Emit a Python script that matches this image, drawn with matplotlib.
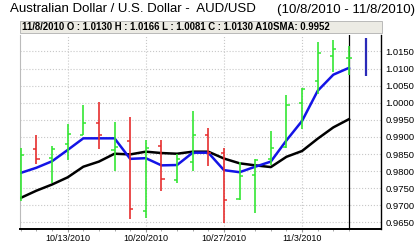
import matplotlib
matplotlib.use('Agg')
import matplotlib.pyplot as plt
from matplotlib.patches import Rectangle

plt.rcParams['font.family'] = ['Liberation Sans', 'DejaVu Sans']

# trading days shown on the axis
dates = ['10/8', '10/11', '10/12', '10/13', '10/14', '10/15', '10/18', '10/19',
         '10/20', '10/21', '10/22', '10/25', '10/26', '10/27', '10/28', '10/29',
         '11/1', '11/2', '11/3', '11/4', '11/5', '11/8']
opens = [0.9800, 0.9866, 0.9839, 0.9879, 0.9906, 0.9941, 0.9862, 0.9888,
         0.9684, 0.9874, 0.9775, 0.9826, 0.9906, 0.9854, 0.9720, 0.9790,
         0.9835, 0.9871, 0.9998, 1.0063, 1.0138, 1.0130]
highs = [0.9869, 0.9906, 0.9874, 0.9937, 0.9994, 1.0001, 0.9945, 0.9959,
         0.9890, 0.9890, 0.9849, 0.9975, 0.9926, 0.9869, 0.9826, 0.9837,
         0.9916, 1.0023, 1.0043, 1.0178, 1.0184, 1.0166]
lows = [0.9712, 0.9820, 0.9764, 0.9832, 0.9905, 0.9864, 0.9800, 0.9661,
        0.9663, 0.9743, 0.9766, 0.9800, 0.9815, 0.9648, 0.9715, 0.9678,
        0.9818, 0.9869, 0.9923, 1.0026, 1.0089, 1.0081]
closes = [0.9847, 0.9836, 0.9864, 0.9908, 0.9942, 0.9906, 0.9870, 0.9690,
          0.9869, 0.9776, 0.9835, 0.9906, 0.9854, 0.9717, 0.9787, 0.9834,
          0.9869, 0.9994, 1.0040, 1.0145, 1.0158, 1.0130]
ma_fast = [0.9795, 0.9810, 0.9829, 0.9862, 0.9896, 0.9896, 0.9896, 0.9836,
           0.9838, 0.9817, 0.9818, 0.9854, 0.9854, 0.9803, 0.9797, 0.9813,
           0.9828, 0.9890, 0.9947, 1.0035, 1.0082, 1.0102]
sma10 = [0.9722, 0.9743, 0.9761, 0.9782, 0.9813, 0.9828, 0.9851, 0.9849,
         0.9857, 0.9853, 0.9851, 0.9857, 0.9857, 0.9837, 0.9823, 0.9817,
         0.9812, 0.9842, 0.9859, 0.9895, 0.9928, 0.9952]
week_labels = ['10/13/2010', '10/20/2010', '10/27/2010', '11/3/2010']
week_idx = [3, 8, 13, 18]
yticks = [0.9650, 0.9700, 0.9750, 0.9800, 0.9850, 0.9900, 0.9950,
          1.0000, 1.0050, 1.0100, 1.0150]

W, H = 417, 244
fig = plt.figure(figsize=(W / 100, H / 100), dpi=100)
ax = fig.add_axes([20 / W, 15 / H, 361 / W, 194 / H])

x = list(range(len(dates)))
green, red = '#33e633', '#e62e2e'
cols = [green if c >= o else red for o, c in zip(opens, closes)]

ax.plot(x, sma10, color='black', lw=1.8, zorder=3)
ax.plot(x, ma_fast, color='#1414e6', lw=1.8, zorder=4)
ax.axvline(21, color='black', lw=0.9, zorder=2)
ax.vlines(x, lows, highs, colors=cols, lw=1.2, zorder=5)
ax.hlines(opens, [i - 0.2 for i in x], x, colors=cols, lw=1.1, zorder=5)
ax.hlines(closes, x, [i + 0.2 for i in x], colors=cols, lw=1.1, zorder=5)
ax.vlines([22.1], [1.0078], [1.0190], colors='#2a2ab8', lw=1.6, zorder=5)

ax.set_xlim(-0.05, 23.05)
ax.set_ylim(0.9631, 1.0198)
ax.set_yticks(yticks)
ax.set_yticklabels(['%.4f' % v for v in yticks])
ax.yaxis.tick_right()
ax.set_xticks(week_idx)
ax.set_xticklabels(week_labels)
ax.set_xticks(x, minor=True)
ax.tick_params(axis='y', length=0, pad=3, labelsize=6.8)
ax.tick_params(axis='x', which='major', length=2, pad=1.5, labelsize=6.5, color='#999999')
ax.tick_params(axis='x', which='minor', length=1.5, color='#999999')
ax.grid(True, which='major', color='#c8c8c8', ls=':', lw=0.8)
ax.set_axisbelow(True)

ax.spines['top'].set_visible(False)
ax.spines['left'].set_color('#bbbbbb')
ax.spines['bottom'].set_linewidth(1.4)
ax.spines['right'].set_linewidth(1.0)

# info bar above the plot
fig.patches.append(Rectangle((20 / W, 1 - 33 / H), 362 / W, 12 / H, transform=fig.transFigure,
                             facecolor='#ecebe4', edgecolor='#b0b0b0', lw=0.6))
fig.text(22 / W, 1 - 27.5 / H,
         '11/8/2010 O : 1.0130 H : 1.0166 L : 1.0081 C : 1.0130 A10SMA: 0.9952',
         fontsize=6.9, fontweight='bold', va='center', ha='left')

fig.text(10 / W, 1 - 9.5 / H, 'Australian Dollar / U.S. Dollar -  AUD/USD',
         fontsize=9.5, va='center', ha='left')
fig.text(277 / W, 1 - 9.5 / H, '(10/8/2010 - 11/8/2010)',
         fontsize=9.5, va='center', ha='left')

fig.savefig('out.png', dpi=100)
